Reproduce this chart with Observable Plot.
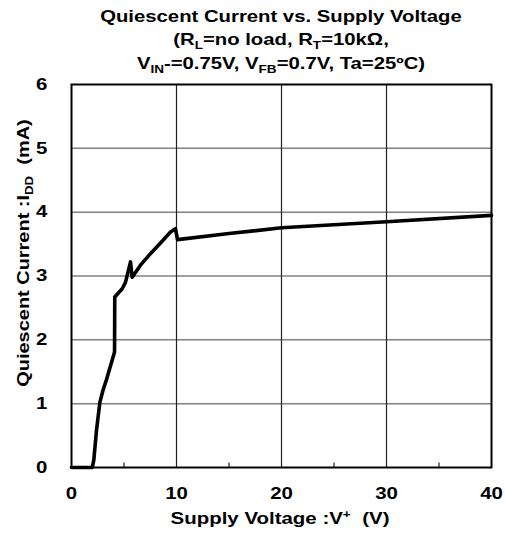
<!DOCTYPE html>
<html><head><meta charset="utf-8">
<script src="https://cdn.jsdelivr.net/npm/d3@7"></script>
<script src="https://cdn.jsdelivr.net/npm/@observablehq/plot@0.6"></script>
<style>
body{margin:0;background:#fff;font-family:"Liberation Sans",Arial,sans-serif;}
#wrap{position:relative;width:505px;height:535px;}
#title{position:absolute;left:71px;top:5px;width:420px;text-align:center;font-weight:bold;font-size:16.5px;line-height:22.5px;color:#000;white-space:nowrap;transform:scaleX(1.23);transform-origin:50% 0;}
.sb{font-size:11px;position:relative;top:4px;}
</style></head>
<body>
<div id="wrap">
<div id="chart"></div>
<div id="title">Quiescent Current vs. Supply Voltage<br>(R<span class="sb">L</span>=no load, R<span class="sb">T</span>=10kΩ,<br>V<span class="sb">IN</span>-=0.75V, V<span class="sb">FB</span>=0.7V, Ta=25ºC)</div>
</div>
<script>
const voltage = [0, 1.97, 2.12, 2.38, 2.7, 3.0, 3.3, 4.1, 4.12, 4.83, 5.14, 5.62, 5.78, 6.57, 7.52, 8.5, 9.43, 9.9, 10.1, 15.0, 20.0, 30.0, 40.0];
const current = [0, 0, 0.11, 0.58, 1.02, 1.21, 1.36, 1.81, 2.67, 2.80, 2.90, 3.22, 2.98, 3.17, 3.35, 3.52, 3.69, 3.74, 3.57, 3.665, 3.755, 3.85, 3.95];
const xTicks = [0, 10, 20, 30, 40];
const xMinor = [5, 15, 25, 35];
const yTicks = [0, 1, 2, 3, 4, 5, 6];

const data = voltage.map((v, i) => ({v, c: current[i]}));
const SX = 1.24;

const plot = Plot.plot({
  width: 505, height: 535,
  marginTop: 84, marginBottom: 68, marginLeft: 71, marginRight: 14,
  style: {fontFamily: "'Liberation Sans', Arial, sans-serif", fontWeight: "bold", fontSize: "16px", color: "#000"},
  x: {domain: [0, 40]},
  y: {domain: [0, 6]},
  marks: [
    Plot.ruleY(yTicks.slice(1, -1), {stroke: "#808080", strokeWidth: 1.5}),
    Plot.ruleX(xTicks.slice(1, -1), {stroke: "#222", strokeWidth: 1.2}),
    Plot.ruleX(xMinor, {y1: 0, y2: 0.07, stroke: "#222", strokeWidth: 1.2}),
    Plot.axisX({ticks: xTicks, tickSize: 0, tickPadding: 20, label: null, fontSize: 16.5, fontWeight: "bold", tickFormat: d3.format("d")}),
    Plot.axisY({ticks: yTicks, tickSize: 0, tickPadding: 24, label: null, fontSize: 16.5, fontWeight: "bold", tickFormat: d3.format("d")}),
    Plot.line(data, {x: "v", y: "c", stroke: "#000", strokeWidth: 3.6, strokeLinejoin: "round"}),
    Plot.frame({stroke: "#000", strokeWidth: 2})
  ]
});
document.getElementById("chart").appendChild(plot);

const svg = d3.select(plot);
// stretch tick label text horizontally (about its anchor) to match the reference's wide glyphs
svg.selectAll("text").each(function() {
  const t = d3.select(this);
  const x = parseFloat(t.attr("x")) || 0;
  const tr = t.attr("transform") || "";
  t.attr("transform", `${tr} translate(${x},0) scale(${SX},1) translate(${-x},0)`);
});

const yl = svg.append("text")
  .attr("transform", `translate(29,253) rotate(-90) scale(1.21,1)`)
  .attr("text-anchor", "middle")
  .style("font-size", "16.5px").style("font-weight", "bold").style("white-space", "pre")
  .attr("fill", "#000");
yl.append("tspan").text("Quiescent Current :I");
yl.append("tspan").attr("dy", 4).style("font-size", "11px").text("DD");
yl.append("tspan").attr("dy", -4).text("  (mA)");

const xl = svg.append("text")
  .attr("transform", `translate(280,524) scale(${SX},1)`)
  .attr("text-anchor", "middle")
  .style("font-size", "16.5px").style("font-weight", "bold").style("white-space", "pre")
  .attr("fill", "#000");
xl.append("tspan").text("Supply Voltage :V");
xl.append("tspan").attr("dy", -6).style("font-size", "11px").text("+");
xl.append("tspan").attr("dy", 6).text("  (V)");
</script>
</body></html>
